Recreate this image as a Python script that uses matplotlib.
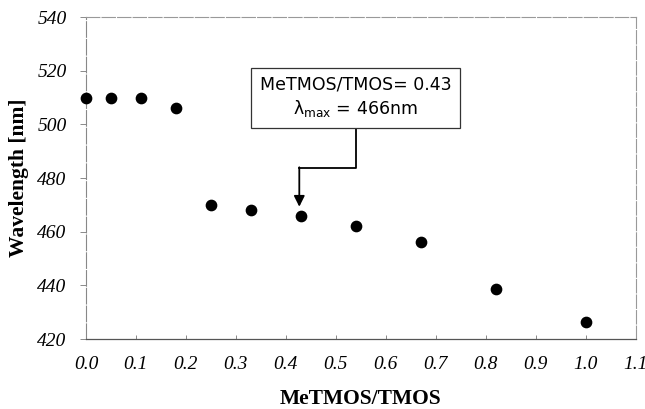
import numpy as np
import matplotlib
matplotlib.use('Agg')
import matplotlib.pyplot as plt

# data
ratio = [0.0, 0.05, 0.11, 0.18, 0.25, 0.33, 0.43, 0.54, 0.67, 0.82, 1.0]
wavelength = [510, 510, 510, 506, 470, 468, 466, 462, 456, 438.5, 426.5]

xticks = np.round(np.arange(0, 1.11, 0.1), 1)
yticks = [420, 440, 460, 480, 500, 520, 540]

fig = plt.figure(figsize=(6.45, 4.09), dpi=100)
ax = fig.add_axes([0.1333, 0.1711, 0.852, 0.7873])

ax.scatter(ratio, wavelength, s=55, color='black', zorder=3, clip_on=False)

ax.set_xlim(0, 1.1)
ax.set_ylim(420, 540)
ax.set_xticks(xticks)
ax.set_xticklabels([f"{t:.1f}" for t in xticks])
ax.set_yticks(yticks)

for lab in ax.get_xticklabels() + ax.get_yticklabels():
    lab.set_fontfamily('Liberation Serif')
    lab.set_fontstyle('italic')
    lab.set_fontsize(14)

ax.tick_params(axis='x', direction='in', length=3, width=0.6, color='#777777', pad=12)
ax.tick_params(axis='y', direction='out', length=4, width=0.6, color='#777777', pad=10)

for side in ['top', 'right']:
    ax.spines[side].set_color('#999999')
    ax.spines[side].set_linewidth(0.8)
    ax.spines[side].set_linestyle((0, (12, 2)))
ax.spines['left'].set_color('#888888')
ax.spines['left'].set_linewidth(0.8)
ax.spines['left'].set_linestyle((0, (14, 2)))
ax.spines['bottom'].set_color('#555555')
ax.spines['bottom'].set_linewidth(0.9)

lab_font = dict(family='Liberation Serif', weight='bold', size=15.5)
ax.set_xlabel('MeTMOS/TMOS', **lab_font)
ax.set_ylabel('Wavelength [nm]', **lab_font)
ax.xaxis.set_label_coords(0.5, -0.155)
ax.yaxis.set_label_coords(-0.103, 0.50)

# callout box with elbow arrow
box_x, box_y = 0.54, 510.1
elbow_x, elbow_y = 0.427, 483.7
ax.plot([box_x, box_x, elbow_x], [498.2, elbow_y, elbow_y], color='black', lw=1.3, zorder=4)
ax.annotate('', xy=(elbow_x, 469.3), xytext=(elbow_x, elbow_y + 0.3),
            arrowprops=dict(arrowstyle='-|>', color='black', lw=1.3,
                            mutation_scale=16, shrinkA=0, shrinkB=0),
            zorder=4)
ax.text(box_x, box_y, 'MeTMOS/TMOS= 0.43\nλ$_{\\mathrm{max}}$ = 466nm',
        ha='center', va='center', fontsize=12.5, family='DejaVu Sans',
        linespacing=1.3, zorder=5,
        bbox=dict(boxstyle='square,pad=0.5', fc='white', ec='#333333', lw=0.9))

fig.savefig('out.png', dpi=100)
